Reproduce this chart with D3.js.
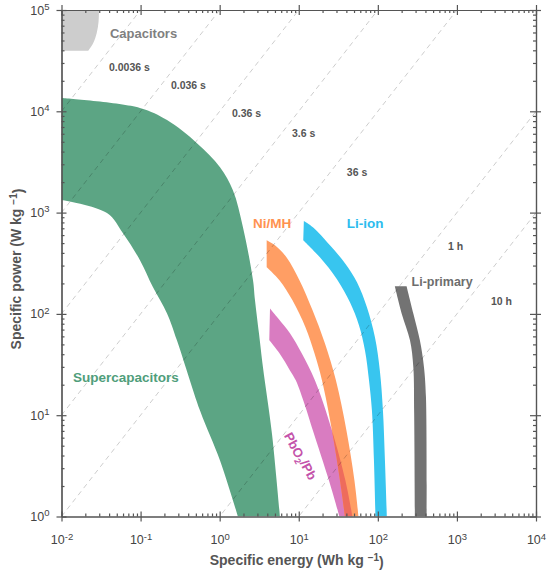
<!DOCTYPE html>
<html>
<head>
<meta charset="utf-8">
<script src="https://d3js.org/d3.v7.min.js"></script>
<style>
  body { margin: 0; background: #fff; }
  svg text { font-family: "Liberation Sans", Arial, sans-serif; }
  .axis path, .axis line { stroke: #555; stroke-width: 1.2; }
  .lbl { font-weight: bold; }
</style>
</head>
<body>
<svg id="chart" width="550" height="575"></svg>
<script>
// band outlines, [specific energy (Wh/kg), specific power (W/kg)], each edge top -> bottom
var capUpper = [[0.0298, 1e5], [0.0294, 7.6e4], [0.0279, 5.93e4], [0.0252, 4.72e4], [0.0218, 3.96e4]];
var capLower = [[0.01, 1e5], [0.01, 3.96e4]];

var superUpper = [[0.01, 13500], [0.098, 10800], [0.216, 8190], [0.516, 4850], [1.01, 2810], [1.47, 1665],
                  [1.97, 718], [2.64, 215], [2.79, 139], [3.14, 64.3], [3.53, 29.6], [4.58, 6.6], [5.78, 1]];
var superLower = [[0.01, 1330], [0.0376, 990], [0.0599, 626], [0.0982, 339], [0.1436, 183], [0.216, 101],
                  [0.288, 54.8], [0.564, 11.1], [1.01, 3.57], [1.70, 1]];

var pbUpper = [[4.33, 113], [5.51, 89.9], [7.74, 64.3], [10.9, 40.8], [16.0, 22.1], [26.3, 7.08], [38.9, 2.27], [47.7, 1]];
var pbLower = [[4.24, 54.8], [5.70, 40.8], [7.74, 27.7], [9.17, 22.1], [11.98, 12.5], [15.1, 7.08], [24.1, 2.27], [32.7, 1]];

var nimhUpper = [[3.93, 534], [5.0, 476], [6.99, 362], [10.2, 215], [14.9, 109], [21.4, 51.2], [29.5, 22.1],
                 [40.1, 7.08], [50.6, 2.27], [56.9, 1]];
var nimhLower = [[3.93, 289], [5.70, 215], [8.33, 136], [12.15, 73.7], [15.8, 40.8], [19.65, 22.1], [26.3, 7.08],
                 [33.2, 2.27], [38.4, 1]];

var liionUpper = [[11.6, 828], [15.1, 718], [24.8, 476], [38.4, 316], [54.5, 205], [72.8, 116], [91.9, 58.7],
                  [106, 27.7], [116, 11.1], [123, 3.57], [130, 1]];
var liionLower = [[11.4, 534], [18.5, 362], [30.4, 220], [44.4, 130], [57.7, 77.1], [68.7, 43.7], [77.3, 22.1],
                  [84.2, 11.1], [89.3, 3.57], [93.3, 1]];

var liprimUpper = [[231, 187], [281, 101], [340, 54.8], [383, 29.9], [406, 15.1], [414, 1]];
var liprimLower = [[164, 187], [200, 101], [255, 54.8], [281, 29.9], [288, 10.4], [294, 1]];

// constant discharge-time lines (hours) and their labels
var timeHours = [1e-6, 1e-5, 1e-4, 1e-3, 1e-2, 1, 10];
var timeLabels = ["0.0036 s", "0.036 s", "0.36 s", "3.6 s", "36 s", "1 h", "10 h"];
var timeLabelAt = [[0.0399, 24950], [0.242, 16560], [1.43, 8770], [8.2, 5560], [40.6, 2290], [769, 430], [2690, 122]];

var xTicks = [1e-2, 1e-1, 1, 10, 100, 1e3, 1e4];
var yTicks = [1, 10, 100, 1e3, 1e4, 1e5];

var mLeft = 61.5, mRight = 536, mTop = 10, mBottom = 516.5;

var svg = d3.select("#chart");
var x = d3.scaleLog().domain([1e-2, 1e4]).range([mLeft, mRight]);
var y = d3.scaleLog().domain([1, 1e5]).range([mBottom, mTop]);

var lineGen = d3.line()
    .x(function(d) { return x(d[0]); })
    .y(function(d) { return y(d[1]); })
    .curve(d3.curveCatmullRom.alpha(0.5));

function bandPath(upper, lower) {
  var a = lineGen(upper);
  var b = lineGen(lower.slice().reverse());
  return a + "L" + b.slice(1) + "Z";
}

var defs = svg.append("defs");
defs.append("clipPath").attr("id", "plotClip")
  .append("rect").attr("x", mLeft).attr("y", mTop).attr("width", mRight - mLeft).attr("height", mBottom - mTop);
defs.append("clipPath").attr("id", "nimhClip")
  .append("path").attr("d", bandPath(nimhUpper, nimhLower));

var plot = svg.append("g").attr("clip-path", "url(#plotClip)");

var bands = [
  { up: capUpper, lo: capLower, fill: "#cdcdcd" },
  { up: superUpper, lo: superLower, fill: "#5ca584" },
  { up: pbUpper, lo: pbLower, fill: "#d97cc1" },
  { up: nimhUpper, lo: nimhLower, fill: "#ff9e64" },
  { up: liionUpper, lo: liionLower, fill: "#38c5ef" },
  { up: liprimUpper, lo: liprimLower, fill: "#737373" }
];

plot.selectAll("path.band")
  .data(bands)
  .enter()
  .append("path")
  .attr("class", "band")
  .attr("d", function(d) { return bandPath(d.up, d.lo); })
  .attr("fill", function(d) { return d.fill; });

// lead-acid overlapping Ni/MH shows as red
plot.append("path")
  .attr("d", bandPath(pbUpper, pbLower))
  .attr("fill", "#ee6c5c")
  .attr("clip-path", "url(#nimhClip)");

// dashed iso-time lines: P = E / t
var straight = d3.line().x(function(d) { return x(d[0]); }).y(function(d) { return y(d[1]); });
plot.selectAll("path.iso")
  .data(timeHours)
  .enter()
  .append("path")
  .attr("class", "iso")
  .attr("d", function(t) { return straight(x.domain().map(function(e) { return [e, e / t]; })); })
  .attr("fill", "none")
  .attr("stroke", "#000")
  .attr("stroke-opacity", 0.2)
  .attr("stroke-width", 1)
  .attr("stroke-dasharray", "5,4");

svg.selectAll("text.tl")
  .data(timeLabels)
  .enter()
  .append("text")
  .attr("class", "tl lbl")
  .attr("x", function(d, i) { return x(timeLabelAt[i][0]); })
  .attr("y", function(d, i) { return y(timeLabelAt[i][1]); })
  .attr("font-size", "10.5px")
  .attr("fill", "#555")
  .text(function(d) { return d; });

// band names
function label(txt, e, p, color, size) {
  return svg.append("text").attr("class", "lbl")
    .attr("x", x(e)).attr("y", y(p))
    .attr("font-size", size + "px")
    .attr("fill", color)
    .text(txt);
}
label("Capacitors", 0.041, 52800, "#808080", 13);
label("Ni/MH", 2.64, 702, "#ff9250", 13.5);
label("Li-ion", 40.6, 702, "#2cbcee", 13.5);
label("Li-primary", 267, 187, "#6d6d6d", 12.5);
label("Supercapacitors", 0.01396, 21.1, "#4f9e7b", 13.5);

var pbText = svg.append("text").attr("class", "lbl")
  .attr("transform", "translate(" + x(10.35) + "," + y(3.92) + ") rotate(62)")
  .attr("text-anchor", "middle")
  .attr("dy", "0.35em")
  .attr("font-size", "13px")
  .attr("fill", "#c452aa");
pbText.append("tspan").text("PbO");
pbText.append("tspan").attr("dy", "0.3em").attr("font-size", "9px").text("2");
pbText.append("tspan").attr("dy", "-0.3em").text("/Pb");

// axes
function minorOf(majors) {
  var m = [];
  majors.slice(0, -1).forEach(function(v) { for (var k = 2; k < 10; k++) m.push(v * k); });
  return m;
}
var xMinor = minorOf(xTicks), yMinor = minorOf(yTicks);

function powerLabels(sel) {
  sel.selectAll(".tick text").each(function(d) {
    var t = d3.select(this);
    t.text(null).attr("font-size", "12.5px").attr("fill", "#444");
    t.append("tspan").text("10");
    t.append("tspan").attr("dy", "-0.5em").attr("font-size", "9.5px").text(Math.round(Math.log10(d)));
  });
}

var gB = svg.append("g").attr("class", "axis").attr("transform", "translate(0," + mBottom + ")");
gB.call(d3.axisBottom(x).tickValues(xMinor).tickSize(-3).tickSizeOuter(0).tickFormat(""));
var gB2 = svg.append("g").attr("class", "axis").attr("transform", "translate(0," + mBottom + ")");
gB2.call(d3.axisBottom(x).tickValues(xTicks).tickSize(5).tickSizeOuter(0).tickPadding(14));
gB2.selectAll(".tick line").attr("y1", -5);
powerLabels(gB2);

var gT = svg.append("g").attr("class", "axis").attr("transform", "translate(0," + mTop + ")");
gT.call(d3.axisTop(x).tickValues(xMinor).tickSize(-3).tickSizeOuter(0).tickFormat(""));
var gT2 = svg.append("g").attr("class", "axis").attr("transform", "translate(0," + mTop + ")");
gT2.call(d3.axisTop(x).tickValues(xTicks).tickSize(5).tickSizeOuter(0).tickFormat(""));
gT2.selectAll(".tick line").attr("y1", 5);

var gL = svg.append("g").attr("class", "axis").attr("transform", "translate(" + mLeft + ",0)");
gL.call(d3.axisLeft(y).tickValues(yMinor).tickSize(-3).tickSizeOuter(0).tickFormat(""));
var gL2 = svg.append("g").attr("class", "axis").attr("transform", "translate(" + mLeft + ",0)");
gL2.call(d3.axisLeft(y).tickValues(yTicks).tickSize(5).tickSizeOuter(0).tickPadding(7));
gL2.selectAll(".tick line").attr("x1", 5);
powerLabels(gL2);

var gR = svg.append("g").attr("class", "axis").attr("transform", "translate(" + mRight + ",0)");
gR.call(d3.axisRight(y).tickValues(yMinor).tickSize(-3).tickSizeOuter(0).tickFormat(""));
var gR2 = svg.append("g").attr("class", "axis").attr("transform", "translate(" + mRight + ",0)");
gR2.call(d3.axisRight(y).tickValues(yTicks).tickSize(5).tickSizeOuter(0).tickFormat(""));
gR2.selectAll(".tick line").attr("x1", -6);

// axis titles
var xt = svg.append("text").attr("class", "lbl")
  .attr("x", (mLeft + mRight) / 2 - 2).attr("y", 565)
  .attr("text-anchor", "middle").attr("font-size", "14px").attr("fill", "#555");
xt.append("tspan").text("Specific energy (Wh kg ");
xt.append("tspan").attr("dy", "-0.45em").attr("font-size", "10px").text("\u22121");
xt.append("tspan").attr("dy", "0.45em").text(")");

var yt = svg.append("text").attr("class", "lbl")
  .attr("transform", "translate(21," + 269 + ") rotate(-90)")
  .attr("text-anchor", "middle").attr("font-size", "14px").attr("fill", "#555");
yt.append("tspan").text("Specific power (W kg ");
yt.append("tspan").attr("dy", "-0.45em").attr("font-size", "10px").text("\u22121");
yt.append("tspan").attr("dy", "0.45em").text(")");
</script>
</body>
</html>
